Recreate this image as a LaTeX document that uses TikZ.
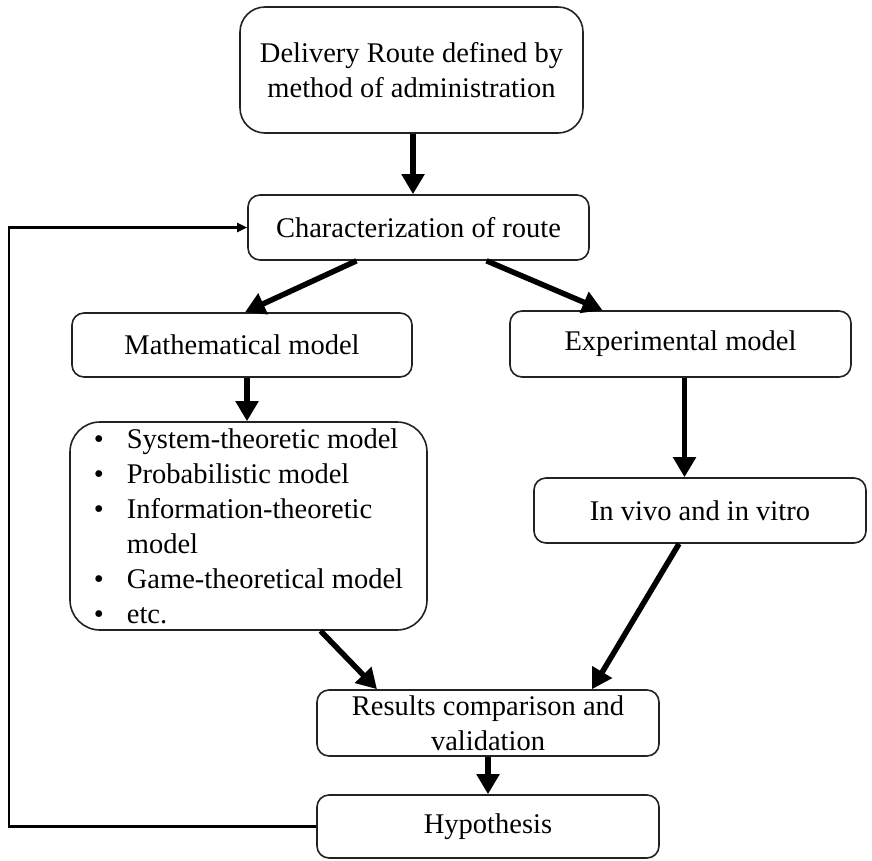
\documentclass[tikz,border=0pt]{standalone}
\usepackage{fontspec}
\setmainfont{Liberation Serif}
\usetikzlibrary{arrows.meta}

\begin{document}
\begin{tikzpicture}[x=1pt, y=-1pt,
    box/.style={draw=borderColour, line width=1.6pt, rounded corners=12pt, align=center, inner sep=2pt},
    bigarrow/.style={line width=5.5pt, -{Triangle[length=20pt,width=22pt]}},
    fbline/.style={line width=2.2pt, -{Triangle[length=10pt,width=9pt]}}]
    \definecolor{borderColour}{HTML}{222222}

    \def\bul{\makebox[33pt][l]{\textbullet}}

    \fontsize{28.5}{35}\selectfont
    \useasboundingbox (0,0) rectangle (872,861);

    % Boxes
    \node[box, rounded corners=25pt, minimum width=343pt, minimum height=126pt] (delivery) at (411.5,70) {Delivery Route defined by\\method of administration};
    \node[box, minimum width=341pt, minimum height=65pt] (charact) at (418.5,227.5) {Characterization of route};
    \node[box, minimum width=340pt, minimum height=64pt] (mathmodel) at (242,345) {Mathematical model};
    \node[box, minimum width=341pt, minimum height=66pt] (expmodel) at (680.5,344) {Experimental model};
    \node[box, rounded corners=30pt, align=left, minimum width=357pt, minimum height=208pt] (mathlist) at (248.5,526)
        {\bul System-theoretic model\\
         \bul Probabilistic model\\
         \bul Information-theoretic\\
         \hspace*{33pt}model\\
         \bul Game-theoretical model\\
         \bul etc.};
    \node[box, minimum width=332pt, minimum height=65pt] (invivo) at (700,510.5) {In vivo and in vitro};
    \node[box, minimum width=342pt, minimum height=66pt] (results) at (488,723) {Results comparison and\\validation};
    \node[box, minimum width=342pt, minimum height=63pt] (hypo) at (488,826.5) {Hypothesis};

    % Arrows
    \draw[bigarrow] ([xshift=1.5pt]delivery.south) -- ([xshift=1.5pt]delivery.south |- charact.north);
    \draw[bigarrow] ([xshift=-62pt]charact.south) -- ([xshift=3pt]mathmodel.north);
    \draw[bigarrow] ([xshift=68pt]charact.south) -- ([xshift=-78pt]expmodel.north);
    \draw[bigarrow] ([xshift=5pt]mathmodel.south) -- ([xshift=5pt]mathmodel.south |- mathlist.north);
    \draw[bigarrow] ([xshift=4pt]expmodel.south) -- ([xshift=4pt]expmodel.south |- invivo.north);
    \draw[bigarrow] ([xshift=72pt]mathlist.south) -- ([xshift=-111pt]results.north);
    \draw[bigarrow] ([xshift=-21pt]invivo.south) -- ([xshift=104pt]results.north);
    \draw[bigarrow] (results.south) -- (hypo.north);

    % Feedback loop
    \coordinate (fbcorner) at (9,0);
    \draw[fbline] (hypo.west) -- (hypo.west -| fbcorner) |- (charact.west);

\end{tikzpicture}
\end{document}
